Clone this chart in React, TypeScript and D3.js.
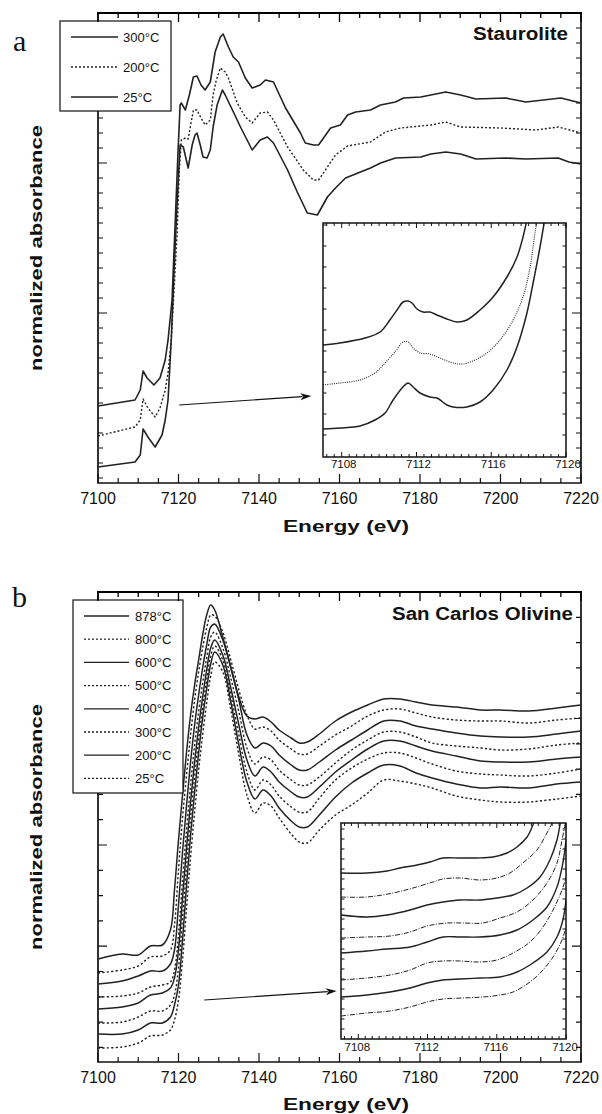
import React from "react";
import * as d3 from "d3";

type Pt = [number, number];

// ---------- axis tick values ----------
const energyMajorTicks = [7100, 7120, 7140, 7160, 7180, 7200, 7220];
const insetTickLabels = [7108, 7112, 7116, 7120];

// ---------- Panel a : Staurolite ----------
const stauroliteLabels = ["300°C", "200°C", "25°C"];
const stauroliteDash = ["", "2 2", ""];

const staurolite300: Pt[] = [
  [7100.0, 0.77], [7109.2, 0.83], [7110.5, 0.93], [7111.2, 1.12], [7112.2, 1.05], [7113.9, 0.98],
  [7115.4, 1.05], [7116.7, 1.23], [7117.4, 1.43], [7118.4, 1.83], [7118.9, 2.33], [7119.4, 2.83],
  [7119.9, 3.33], [7120.4, 3.78], [7120.7, 3.80], [7121.7, 3.73], [7122.7, 3.88], [7123.7, 4.06],
  [7124.6, 4.07], [7125.6, 3.98], [7126.6, 3.93], [7127.9, 4.01], [7129.1, 4.31], [7130.4, 4.46],
  [7131.1, 4.49], [7132.4, 4.36], [7133.6, 4.26], [7134.9, 4.21], [7136.6, 4.05], [7138.3, 3.95],
  [7140.3, 3.98], [7141.6, 4.03], [7143.6, 4.01], [7146.6, 3.75], [7150.3, 3.50], [7151.5, 3.40],
  [7153.5, 3.38], [7154.8, 3.38], [7157.8, 3.55], [7160.2, 3.58], [7162.0, 3.68], [7164.0, 3.71],
  [7167.7, 3.73], [7170.2, 3.78], [7173.9, 3.81], [7175.9, 3.85], [7180.2, 3.86], [7186.4, 3.91],
  [7190.1, 3.88], [7193.9, 3.84], [7201.3, 3.85], [7206.3, 3.81], [7215.0, 3.85], [7220.0, 3.80],
];
const staurolite200: Pt[] = [
  [7100.0, 0.47], [7109.2, 0.56], [7110.5, 0.63], [7111.2, 0.84], [7112.4, 0.75], [7114.2, 0.66],
  [7115.4, 0.75], [7116.7, 0.93], [7117.4, 1.10], [7118.2, 1.43], [7118.9, 1.93], [7119.7, 2.53],
  [7120.2, 3.13], [7120.7, 3.43], [7121.7, 3.45], [7122.4, 3.44], [7123.7, 3.73], [7124.6, 3.73],
  [7125.6, 3.65], [7126.6, 3.58], [7127.9, 3.63], [7128.6, 3.88], [7129.4, 4.03], [7130.4, 4.15],
  [7131.6, 4.11], [7132.4, 4.05], [7134.6, 3.80], [7136.6, 3.66], [7138.3, 3.60], [7140.3, 3.70],
  [7142.1, 3.71], [7143.6, 3.63], [7147.1, 3.36], [7151.0, 3.13], [7153.5, 3.03], [7154.8, 3.03],
  [7156.5, 3.13], [7159.0, 3.28], [7162.0, 3.37], [7167.7, 3.41], [7171.4, 3.51], [7175.2, 3.55],
  [7182.7, 3.58], [7186.4, 3.61], [7190.1, 3.56], [7200.1, 3.55], [7208.8, 3.53], [7214.3, 3.56],
  [7220.0, 3.50],
];
const staurolite25: Pt[] = [
  [7100.0, 0.16], [7109.2, 0.21], [7110.5, 0.28], [7111.2, 0.54], [7112.4, 0.46], [7114.2, 0.36],
  [7115.9, 0.48], [7116.7, 0.63], [7117.4, 0.83], [7118.2, 1.43], [7118.9, 2.13], [7119.7, 2.83],
  [7120.2, 3.23], [7120.4, 3.38], [7121.2, 3.36], [7122.4, 3.15], [7123.4, 3.38], [7124.1, 3.48],
  [7124.6, 3.50], [7125.4, 3.38], [7126.1, 3.26], [7127.1, 3.25], [7127.9, 3.33], [7128.6, 3.56],
  [7129.6, 3.78], [7130.9, 3.93], [7131.6, 3.88], [7133.4, 3.73], [7135.4, 3.56], [7138.3, 3.33],
  [7140.3, 3.43], [7142.1, 3.46], [7143.6, 3.40], [7147.1, 3.13], [7149.5, 2.91], [7152.0, 2.70],
  [7154.5, 2.68], [7157.0, 2.86], [7159.0, 2.95], [7161.5, 3.05], [7165.2, 3.11], [7167.7, 3.15],
  [7170.2, 3.20], [7173.9, 3.25], [7180.2, 3.26], [7182.7, 3.29], [7186.4, 3.31], [7190.1, 3.29],
  [7193.9, 3.24], [7201.3, 3.25], [7206.3, 3.24], [7214.3, 3.25], [7217.0, 3.21], [7220.0, 3.19],
];

// inset a (pre-edge)
const stauroliteInset300: Pt[] = [
  [7107.0, 1.12], [7107.91, 1.14], [7109.25, 1.19], [7110.05, 1.25], [7110.58, 1.37], [7110.96, 1.47],
  [7111.28, 1.55], [7111.55, 1.56], [7111.76, 1.54], [7112.03, 1.48], [7112.35, 1.45], [7112.72, 1.45],
  [7113.10, 1.42], [7113.63, 1.38], [7114.17, 1.35], [7114.70, 1.37], [7115.40, 1.47], [7116.10, 1.60],
  [7116.84, 1.80], [7117.38, 2.00], [7117.70, 2.20], [7117.96, 2.42],
];
const stauroliteInset200: Pt[] = [
  [7107.0, 0.72], [7107.91, 0.74], [7108.98, 0.77], [7109.78, 0.84], [7110.32, 0.94], [7110.85, 1.05],
  [7111.28, 1.15], [7111.55, 1.15], [7111.82, 1.09], [7112.19, 1.04], [7112.72, 1.03], [7113.26, 0.99],
  [7113.96, 0.94], [7114.49, 0.93], [7115.13, 0.97], [7115.77, 1.04], [7116.47, 1.17], [7117.17, 1.37],
  [7117.70, 1.60], [7118.08, 1.90], [7118.34, 2.24], [7118.50, 2.42],
];
const stauroliteInset25: Pt[] = [
  [7107.0, 0.28], [7107.91, 0.29], [7108.98, 0.31], [7109.78, 0.37], [7110.32, 0.44], [7110.75, 0.57],
  [7111.28, 0.70], [7111.55, 0.74], [7111.82, 0.70], [7112.19, 0.64], [7112.72, 0.60], [7113.10, 0.59],
  [7113.63, 0.52], [7113.96, 0.50], [7114.70, 0.50], [7115.40, 0.55], [7116.10, 0.67], [7116.84, 0.87],
  [7117.38, 1.10], [7117.91, 1.44], [7118.24, 1.74], [7118.61, 2.10], [7118.90, 2.42],
];

// ---------- Panel b : San Carlos Olivine ----------
const olivineLabels = ["878°C", "800°C", "600°C", "500°C", "400°C", "300°C", "200°C", "25°C"];
const olivineEnergy = [
  7100, 7106, 7110, 7113, 7116, 7118, 7119, 7120, 7121, 7122, 7123, 7124, 7125, 7126, 7127, 7128,
  7129, 7131, 7133, 7135, 7137, 7139, 7141, 7143, 7145, 7148, 7150, 7152, 7155, 7159, 7163, 7167,
  7171, 7175, 7179, 7183, 7189, 7195, 7200, 7207, 7214, 7220,
];
const olivine878 = [1.03, 1.08, 1.07, 1.16, 1.17, 1.32, 1.72, 2.22, 2.67, 3.10, 3.47, 3.77, 4.02, 4.27, 4.47, 4.57, 4.52, 4.25, 3.95, 3.65, 3.46, 3.43, 3.45, 3.40, 3.32, 3.24, 3.19, 3.20, 3.28, 3.41, 3.50, 3.57, 3.63, 3.63, 3.60, 3.57, 3.55, 3.52, 3.52, 3.51, 3.54, 3.57];
const olivine800 = [0.89, 0.92, 0.96, 1.05, 1.06, 1.12, 1.37, 1.92, 2.44, 2.87, 3.27, 3.62, 3.90, 4.14, 4.34, 4.47, 4.46, 4.30, 4.02, 3.72, 3.47, 3.33, 3.35, 3.31, 3.22, 3.13, 3.08, 3.08, 3.16, 3.27, 3.36, 3.46, 3.52, 3.53, 3.49, 3.45, 3.42, 3.41, 3.41, 3.39, 3.42, 3.44];
const olivine600 = [0.78, 0.81, 0.86, 0.91, 0.91, 0.98, 1.12, 1.57, 2.10, 2.57, 3.00, 3.37, 3.67, 3.94, 4.17, 4.35, 4.38, 4.22, 3.94, 3.62, 3.27, 3.14, 3.19, 3.16, 3.07, 2.97, 2.92, 2.92, 3.00, 3.12, 3.22, 3.32, 3.41, 3.41, 3.36, 3.33, 3.29, 3.26, 3.25, 3.25, 3.28, 3.31];
const olivine500 = [0.65, 0.66, 0.69, 0.75, 0.77, 0.80, 0.92, 1.27, 1.82, 2.32, 2.77, 3.17, 3.50, 3.79, 4.04, 4.25, 4.30, 4.14, 3.84, 3.50, 3.14, 2.98, 3.05, 3.02, 2.92, 2.82, 2.77, 2.77, 2.85, 2.99, 3.12, 3.22, 3.30, 3.30, 3.25, 3.19, 3.16, 3.14, 3.12, 3.13, 3.17, 3.19];
const olivine400 = [0.53, 0.55, 0.59, 0.67, 0.69, 0.74, 0.84, 1.12, 1.64, 2.14, 2.60, 3.00, 3.35, 3.65, 3.92, 4.14, 4.22, 4.07, 3.74, 3.37, 3.02, 2.86, 2.95, 2.90, 2.80, 2.70, 2.65, 2.65, 2.75, 2.90, 3.02, 3.13, 3.21, 3.21, 3.16, 3.11, 3.06, 3.01, 3.00, 3.00, 3.03, 3.05];
const olivine300 = [0.39, 0.40, 0.45, 0.51, 0.51, 0.57, 0.67, 0.94, 1.44, 1.96, 2.44, 2.85, 3.22, 3.54, 3.82, 4.06, 4.16, 4.02, 3.67, 3.27, 2.90, 2.72, 2.82, 2.77, 2.66, 2.55, 2.50, 2.50, 2.64, 2.82, 2.94, 3.03, 3.09, 3.09, 3.04, 2.98, 2.91, 2.88, 2.87, 2.86, 2.89, 2.93];
const olivine200 = [0.28, 0.28, 0.32, 0.39, 0.39, 0.45, 0.57, 0.77, 1.22, 1.77, 2.27, 2.70, 3.09, 3.44, 3.73, 3.98, 4.10, 3.97, 3.60, 3.17, 2.80, 2.63, 2.72, 2.66, 2.54, 2.41, 2.35, 2.35, 2.47, 2.65, 2.79, 2.89, 2.97, 2.96, 2.89, 2.84, 2.78, 2.74, 2.75, 2.74, 2.78, 2.80];
const olivine25 = [0.14, 0.15, 0.19, 0.26, 0.27, 0.32, 0.42, 0.62, 1.02, 1.54, 2.05, 2.50, 2.92, 3.27, 3.59, 3.86, 4.00, 3.90, 3.52, 3.07, 2.67, 2.49, 2.59, 2.56, 2.44, 2.28, 2.20, 2.19, 2.32, 2.47, 2.57, 2.69, 2.82, 2.81, 2.78, 2.74, 2.66, 2.62, 2.60, 2.60, 2.63, 2.66];

// inset b (pre-edge)
const olivineInset878: Pt[] = [[7107.0, 1.66], [7108.5, 1.66], [7109.66, 1.68], [7110.41, 1.71], [7111.39, 1.74], [7112.14, 1.77], [7112.89, 1.81], [7113.87, 1.81], [7114.86, 1.81], [7115.78, 1.82], [7116.59, 1.86], [7117.17, 1.92], [7117.75, 2.02], [7118.09, 2.14], [7118.3, 2.24]];
const olivineInset800: Pt[] = [[7107.0, 1.42], [7108.5, 1.42], [7110.0, 1.46], [7111.16, 1.51], [7112.31, 1.57], [7112.89, 1.60], [7113.87, 1.61], [7115.03, 1.59], [7116.01, 1.61], [7116.76, 1.66], [7117.51, 1.76], [7118.32, 1.89], [7118.9, 2.06], [7119.19, 2.16], [7119.4, 2.29]];
const olivineInset600: Pt[] = [[7107.0, 1.24], [7108.5, 1.22], [7109.66, 1.24], [7110.99, 1.29], [7111.97, 1.34], [7112.89, 1.37], [7113.87, 1.39], [7115.03, 1.39], [7116.01, 1.41], [7116.94, 1.44], [7117.75, 1.51], [7118.5, 1.62], [7119.07, 1.79], [7119.48, 1.99], [7119.65, 2.14], [7119.75, 2.24]];
const olivineInset500: Pt[] = [[7107.0, 1.01], [7108.5, 1.02], [7109.83, 1.03], [7110.99, 1.07], [7111.97, 1.13], [7113.12, 1.16], [7114.05, 1.16], [7115.2, 1.16], [7116.19, 1.21], [7117.17, 1.27], [7118.09, 1.39], [7118.9, 1.56], [7119.48, 1.76], [7119.77, 1.99], [7119.94, 2.14], [7120.0, 2.19]];
const olivineInset400: Pt[] = [[7107.0, 0.86], [7108.5, 0.88], [7109.66, 0.90], [7110.99, 0.92], [7111.97, 0.97], [7112.89, 1.02], [7113.87, 1.02], [7115.03, 1.02], [7116.19, 1.04], [7117.17, 1.09], [7118.09, 1.19], [7118.9, 1.32], [7119.48, 1.52], [7119.82, 1.76], [7120.0, 1.99]];
const olivineInset300: Pt[] = [[7107.0, 0.59], [7108.5, 0.61], [7109.83, 0.64], [7110.99, 0.69], [7111.97, 0.76], [7112.89, 0.78], [7113.87, 0.78], [7115.03, 0.77], [7116.01, 0.79], [7116.94, 0.86], [7117.92, 0.97], [7118.67, 1.12], [7119.25, 1.29], [7119.77, 1.49], [7120.0, 1.62]];
const olivineInset200: Pt[] = [[7107.0, 0.42], [7108.5, 0.44], [7109.83, 0.47], [7110.99, 0.51], [7111.97, 0.56], [7112.89, 0.59], [7113.87, 0.60], [7115.03, 0.61], [7116.19, 0.62], [7117.17, 0.67], [7118.09, 0.76], [7118.9, 0.87], [7119.48, 1.02], [7119.82, 1.19], [7120.0, 1.39]];
const olivineInset25: Pt[] = [[7107.0, 0.23], [7108.5, 0.26], [7109.83, 0.28], [7110.99, 0.32], [7111.97, 0.37], [7112.89, 0.40], [7114.05, 0.41], [7115.2, 0.42], [7116.19, 0.44], [7116.94, 0.47], [7117.92, 0.57], [7118.67, 0.69], [7119.25, 0.82], [7119.77, 0.99], [7120.0, 1.12]];

// ---------- drawing helpers ----------
const INK = "#111";
const CURVE = "#222";
const SANS = "'Liberation Sans', Arial, Helvetica, sans-serif";

type Lin = d3.ScaleLinear<number, number>;

function framePath(x0: number, x1: number, yTop: number, yBot: number) {
  return `M${x0},${yTop}H${x1}V${yBot}H${x0}Z`;
}

// ticks on bottom/left/right, and separately the top row
function tickPathMain(x: Lin, y: Lin, yTicks: number[], yMajor: (i: number) => boolean,
  xMinorStep: number, xMajorStep: number, minorLen: number, majorLen: number, which: "top" | "rest") {
  const [x0, x1] = x.range();
  const yBot = Math.max(...y.range());
  const yTop = Math.min(...y.range());
  const [d0, d1] = x.domain();
  const n = Math.round((d1 - d0) / xMinorStep);
  let p = "";
  for (let i = 0; i <= n; i++) {
    const v = d0 + i * xMinorStep;
    const px = x(v);
    const maj = Math.abs(v / xMajorStep - Math.round(v / xMajorStep)) < 1e-6;
    const L = maj ? majorLen : minorLen;
    if (which === "top") p += `M${px},${yTop}V${yTop + L}`;
    else p += `M${px},${yBot}V${yBot - L}`;
  }
  if (which === "rest") {
    yTicks.forEach((v, i) => {
      const py = y(v);
      const L = yMajor(i) ? majorLen : minorLen;
      p += `M${x0},${py}H${x0 + L}M${x1},${py}H${x1 - L}`;
    });
  }
  return p;
}

function Arrow({ x1, y1, x2, y2 }: { x1: number; y1: number; x2: number; y2: number }) {
  const a = Math.atan2(y2 - y1, x2 - x1);
  const L = 11, w = 3.6;
  const bx = x2 - L * Math.cos(a), by = y2 - L * Math.sin(a);
  const p1 = [bx + w * Math.sin(a), by - w * Math.cos(a)];
  const p2 = [bx - w * Math.sin(a), by + w * Math.cos(a)];
  return (
    <g>
      <line x1={x1} y1={y1} x2={bx + 2 * Math.cos(a)} y2={by + 2 * Math.sin(a)} stroke={INK} strokeWidth={1.2} />
      <polygon points={`${x2},${y2} ${p1[0]},${p1[1]} ${bx + 3 * Math.cos(a)},${by + 3 * Math.sin(a)} ${p2[0]},${p2[1]}`} fill={INK} />
    </g>
  );
}

export default function App() {
  // scales
  const xA = d3.scaleLinear().domain([7100, 7220]).range([98, 581]);
  const yA = d3.scaleLinear().domain([0, 4.7]).range([483, 13]);
  const xB = d3.scaleLinear().domain([7100, 7220]).range([98, 581]);
  const yB = d3.scaleLinear().domain([0, 4.7]).range([1062, 592]);
  const xIA = d3.scaleLinear().domain([7107, 7120]).range([323, 566]);
  const yIA = d3.scaleLinear().domain([0, 2.34]).range([457, 223]);
  const xIB = d3.scaleLinear().domain([7107, 7120]).range([341, 566]);
  const yIB = d3.scaleLinear().domain([0, 2.16]).range([1039, 823]);

  const lineOf = (x: Lin, y: Lin, smooth: boolean) => {
    const l = d3.line<Pt>().x((d) => x(d[0])).y((d) => y(d[1]));
    return smooth ? l.curve(d3.curveCatmullRom.alpha(0.5)) : l;
  };
  const lA = lineOf(xA, yA, false), lB = lineOf(xB, yB, true);
  const lIA = lineOf(xIA, yIA, true), lIB = lineOf(xIB, yIB, true);

  const stauroliteSeries = [staurolite300, staurolite200, staurolite25];
  const stauroliteInsetSeries = [stauroliteInset300, stauroliteInset200, stauroliteInset25];
  const olivineValues = [olivine878, olivine800, olivine600, olivine500, olivine400, olivine300, olivine200, olivine25];
  const olivineSeries: Pt[][] = olivineValues.map((vals) => olivineEnergy.map((e, i) => [e, vals[i]] as Pt));
  const olivineInsetSeries = [olivineInset878, olivineInset800, olivineInset600, olivineInset500, olivineInset400, olivineInset300, olivineInset200, olivineInset25];

  // tick lists (data units)
  const yTicksA = d3.range(1, 32).map((k) => 4.7 - 0.15 * k);
  const yTicksB = d3.range(1, 19).map((k) => 4.7 - 0.253 * k);
  const yTicksIA = d3.range(0, 11).map((k) => 0.22 + 0.21 * k);
  const yTicksIB = d3.range(1, 22).map((k) => 0.1 * k);
  const insetXTicks = d3.range(0, 33).map((k) => 7107.2 + 0.4 * k);

  const insetTickPath = (x: Lin, y: Lin, yt: number[]) => {
    const [x0, x1] = x.range();
    const yBot = Math.max(...y.range());
    const yTop = Math.min(...y.range());
    let p = "";
    insetXTicks.forEach((v) => {
      const maj = insetTickLabels.some((t) => Math.abs(t - v) < 1e-6);
      const L = maj ? 5 : 3;
      p += `M${x(v)},${yBot}V${yBot - L}M${x(v)},${yTop}V${yTop + L}`;
    });
    yt.forEach((v) => {
      p += `M${x0},${y(v)}H${x0 + 3.5}M${x1},${y(v)}H${x1 - 3.5}`;
    });
    return p;
  };

  const legendARows = [37, 67, 97];
  const legendBRows = olivineLabels.map((_, i) => 616 + 23.2 * i);

  const ticksA = tickPathMain(xA, yA, yTicksA, (i) => (i + 1) % 10 === 0 && i < 25, 5, 20, 5, 9, "rest");
  const ticksATop = tickPathMain(xA, yA, yTicksA, () => false, 5, 20, 5, 9, "top");
  const ticksB = tickPathMain(xB, yB, yTicksB, (i) => i === 9 || i === 13, 5, 20, 5, 9, "rest");
  const ticksBTop = tickPathMain(xB, yB, yTicksB, () => false, 5, 20, 5, 9, "top");

  return (
    <div style={{ position: "absolute", left: 0, top: 0 }}>
      <svg width={602} height={1114} style={{ display: "block" }}>
        <rect x={0} y={0} width={602} height={1114} fill="#fff" />
        <defs>
          <clipPath id="clipIA"><rect x={323} y={223} width={243} height={234} /></clipPath>
          <clipPath id="clipIB"><rect x={341} y={823} width={225} height={216} /></clipPath>
        </defs>

        {/* ================= Panel a ================= */}
        <path d={ticksA} fill="none" stroke={INK} strokeWidth={1.2} />
        <path d={framePath(98, 581, 13, 483)} fill="none" stroke={INK} strokeWidth={1.7} />
        <text x={13} y={51} fontFamily="'Liberation Serif', 'Times New Roman', serif" fontSize={30} fill={INK}>a</text>
        {stauroliteSeries.map((s, i) => (
          <path key={i} d={lA(s) || ""} fill="none" stroke={CURVE} strokeWidth={i === 1 ? 1.4 : 1.6}
            strokeDasharray={stauroliteDash[i] || undefined} strokeLinejoin="round" />
        ))}
        {energyMajorTicks.map((t) => (
          <text key={t} x={xA(t)} y={504} textAnchor="middle" fontFamily={SANS} fontSize={16} fill={INK}>{t}</text>
        ))}
        <text x={283} y={532} fontFamily={SANS} fontSize={16} fontWeight="bold" textLength={126} lengthAdjust="spacingAndGlyphs" fill={INK}>Energy (eV)</text>
        <text transform="translate(42,248) rotate(-90)" textAnchor="middle" fontFamily={SANS} fontSize={16} fontWeight="bold" textLength={246} lengthAdjust="spacingAndGlyphs" fill={INK}>normalized absorbance</text>
        <text x={568} y={40} textAnchor="end" fontFamily={SANS} fontSize={18} fontWeight="bold" textLength={95} lengthAdjust="spacingAndGlyphs" fill={INK}>Staurolite</text>

        {/* legend a */}
        <rect x={60} y={21} width={111} height={90} fill="#fff" stroke={INK} strokeWidth={1.2} />
        {stauroliteLabels.map((lab, i) => (
          <g key={lab}>
            <line x1={71} x2={118} y1={legendARows[i]} y2={legendARows[i]} stroke={CURVE} strokeWidth={1.3}
              strokeDasharray={stauroliteDash[i] || undefined} />
            <text x={123} y={legendARows[i] + 4.5} fontFamily={SANS} fontSize={13} fill={INK}>{lab}</text>
          </g>
        ))}

        {/* inset a */}
        <rect x={323} y={223} width={243} height={234} fill="#fff" />
        <g clipPath="url(#clipIA)">
          {stauroliteInsetSeries.map((s, i) => (
            <path key={i} d={lIA(s) || ""} fill="none" stroke={CURVE} strokeWidth={i === 1 ? 1.1 : 1.5}
              strokeDasharray={i === 1 ? "1 1.2" : undefined} strokeLinejoin="round" />
          ))}
        </g>
        <path d={insetTickPath(xIA, yIA, yTicksIA)} fill="none" stroke={INK} strokeWidth={1} />
        <path d={framePath(323, 566, 223, 457)} fill="none" stroke={INK} strokeWidth={1.5} />
        {insetTickLabels.map((t) => (
          <text key={t} x={xIA(t) + 2} y={468} textAnchor="middle" fontFamily={SANS} fontSize={11.5} fill={INK}>{t}</text>
        ))}
        <Arrow x1={xA(7120.2)} y1={yA(0.78)} x2={xA(7153.0)} y2={yA(0.87)} />

        {/* ================= Panel b ================= */}
        <path d={ticksB} fill="none" stroke={INK} strokeWidth={1.2} />
        <path d={framePath(98, 581, 592, 1062)} fill="none" stroke={INK} strokeWidth={1.7} />
        <text x={12} y={607} fontFamily="'Liberation Serif', 'Times New Roman', serif" fontSize={30} fill={INK}>b</text>
        {olivineSeries.map((s, i) => (
          <path key={i} d={lB(s) || ""} fill="none" stroke={CURVE} strokeWidth={i % 2 === 0 ? 1.5 : 1.4}
            strokeDasharray={i % 2 === 1 ? "2.2 2.2" : undefined} strokeLinejoin="round" />
        ))}
        {energyMajorTicks.map((t) => (
          <text key={t} x={xB(t)} y={1083} textAnchor="middle" fontFamily={SANS} fontSize={16} fill={INK}>{t}</text>
        ))}
        <text x={283} y={1110} fontFamily={SANS} fontSize={16} fontWeight="bold" textLength={126} lengthAdjust="spacingAndGlyphs" fill={INK}>Energy (eV)</text>
        <text transform="translate(42,827) rotate(-90)" textAnchor="middle" fontFamily={SANS} fontSize={16} fontWeight="bold" textLength={246} lengthAdjust="spacingAndGlyphs" fill={INK}>normalized absorbance</text>
        <text x={573} y={620} textAnchor="end" fontFamily={SANS} fontSize={18} fontWeight="bold" textLength={181} lengthAdjust="spacingAndGlyphs" fill={INK}>San Carlos Olivine</text>

        {/* legend b */}
        <rect x={73} y={600} width={110} height={193} fill="#fff" stroke={INK} strokeWidth={1.2} />
        {olivineLabels.map((lab, i) => (
          <g key={lab}>
            <line x1={84} x2={129} y1={legendBRows[i]} y2={legendBRows[i]} stroke={CURVE} strokeWidth={1.3}
              strokeDasharray={i % 2 === 1 ? "2 2" : undefined} />
            <text x={135} y={legendBRows[i] + 4.5} fontFamily={SANS} fontSize={13} fill={INK}>{lab}</text>
          </g>
        ))}

        {/* inset b */}
        <rect x={341} y={823} width={225} height={216} fill="#fff" />
        <g clipPath="url(#clipIB)">
          {olivineInsetSeries.map((s, i) => (
            <path key={i} d={lIB(s) || ""} fill="none" stroke={CURVE} strokeWidth={i % 2 === 0 ? 1.4 : 1.0}
              strokeDasharray={i % 2 === 1 ? "5 1.5 1 1.5" : undefined} strokeLinejoin="round" />
          ))}
        </g>
        <path d={insetTickPath(xIB, yIB, yTicksIB)} fill="none" stroke={INK} strokeWidth={1} />
        <path d={framePath(341, 566, 823, 1039)} fill="none" stroke={INK} strokeWidth={1.5} />
        {insetTickLabels.map((t) => (
          <text key={t} x={xIB(t) - 1} y={1051} textAnchor="middle" fontFamily={SANS} fontSize={11.5} fill={INK}>{t}</text>
        ))}
        <Arrow x1={xB(7126.4)} y1={yB(0.62)} x2={xB(7159.3)} y2={yB(0.71)} />

        {/* top axes drawn last so nothing can cover them */}
        <path d={ticksATop} fill="none" stroke="#000" strokeWidth={1.3} />
        <line x1={97} x2={582} y1={13} y2={13} stroke="#000" strokeWidth={1.8} />
        <path d={ticksBTop} fill="none" stroke="#000" strokeWidth={1.3} />
        <line x1={97} x2={582} y1={592} y2={592} stroke="#000" strokeWidth={1.8} />
      </svg>
    </div>
  );
}
